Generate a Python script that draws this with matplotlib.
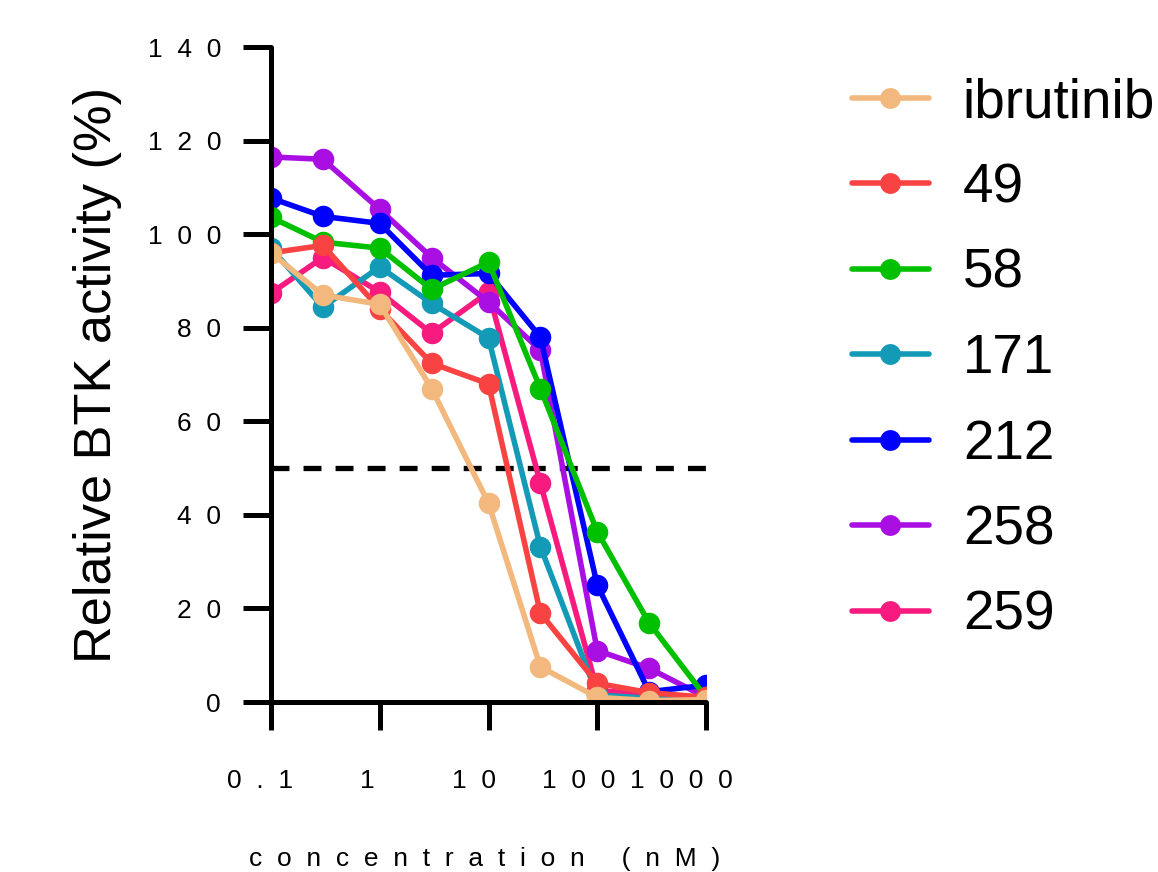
import matplotlib
matplotlib.use("Agg")
import matplotlib.pyplot as plt
from matplotlib.transforms import ScaledTranslation, blended_transform_factory

plt.rcParams['font.family'] = ['Liberation Sans', 'DejaVu Sans']

# concentrations (nM)
conc = [0.1, 0.3, 1, 3, 10, 30, 100, 300, 1000]

compounds = ['ibrutinib', '49', '58', '171', '212', '258', '259']
colors = ['#F2B87D', '#F94343', '#00C000', '#129AB6', '#0000FF', '#A90FE3', '#F71B7F']

ibrutinib = [96, 87, 85, 67, 42.5, 7.5, 1.0, 0.3, 0.5]
c49 = [96, 97.6, 84, 72.4, 68, 19, 4, 2, 1]
c58 = [103.6, 98.3, 97, 88.2, 94, 67, 36.4, 16.9, 1]
c171 = [97, 84.4, 93, 85.2, 77.8, 33.2, 1.5, 0.8, 0.5]
c212 = [107.7, 103.8, 102.3, 91.2, 91.6, 78, 25, 2.2, 3.6]
c258 = [116.5, 116, 105.3, 95, 85.5, 75.2, 11, 7.2, 1]
c259 = [87.4, 95, 87.6, 78.8, 87.6, 46.8, 2.5, 1.5, 1]
series = [ibrutinib, c49, c58, c171, c212, c258, c259]

threshold = 50
yticks = [0, 20, 40, 60, 80, 100, 120, 140]
xticks = [0.1, 1, 10, 100, 1000]
xtick_labels = ['0.1', '1', '10', '100', '1000']
xlabel_shift = [-11, -12, -15, -19, -25]  # px, labels sit left of the ticks


def spaced(s, gap='  '):
    return gap.join(list(s))


fig = plt.figure(figsize=(11.58, 8.72), dpi=100)
ax = fig.add_axes([271 / 1158, 170 / 872, 435 / 1158, 655 / 872])

handles = {}
for name, col, vals in reversed(list(zip(compounds, colors, series))):
    h, = ax.plot(conc, vals, color=col, lw=4, marker='o', markersize=15.5,
                 markeredgewidth=0, solid_capstyle='round')
    handles[name] = h

ax.axhline(threshold, color='black', lw=3.8, ls=(0, (3.4, 2.67)), zorder=0.5)

ax.set_xscale('log')
ax.set_xlim(0.1, 1000)
ax.set_ylim(0, 140)

for side in ['top', 'right']:
    ax.spines[side].set_visible(False)
for side in ['left', 'bottom']:
    ax.spines[side].set_linewidth(3.6)
    ax.spines[side].set_capstyle('round')

ax.set_yticks(yticks)
ax.set_yticklabels([spaced(str(v)) for v in yticks])
ax.tick_params(axis='y', length=20, width=3.6, pad=16, labelsize=19)
ax.minorticks_off()
ax.set_xticks(xticks)
ax.set_xticklabels([])
ax.tick_params(axis='x', length=20, width=3.6)

trans = blended_transform_factory(ax.transData, ax.transAxes)
for xv, lab, dx in zip(xticks, xtick_labels, xlabel_shift):
    off = ScaledTranslation(dx / 100, 0, fig.dpi_scale_trans)
    ax.text(xv, -0.103, spaced(lab), transform=trans + off, ha='center', va='top',
            fontsize=19, clip_on=False)

ax.set_ylabel('Relative BTK activity (%)', fontsize=37.7, labelpad=18)
fig.text(485 / 1158, 6 / 872, spaced('concentration') + '     ' + spaced('(nM)'),
         ha='center', va='baseline', fontsize=19)

leg = ax.legend([handles[n] for n in compounds], compounds, loc='upper left',
                bbox_to_anchor=(852 / 1158, 1 - 77 / 872), bbox_transform=fig.transFigure,
                frameon=False, fontsize=39.5, handlelength=1.4, handletextpad=0.62,
                labelspacing=0.61, borderaxespad=0, borderpad=0)
for line in leg.get_lines():
    line.set_markersize(15)
    line.set_linewidth(4)

fig.savefig('out.png', dpi=100)
